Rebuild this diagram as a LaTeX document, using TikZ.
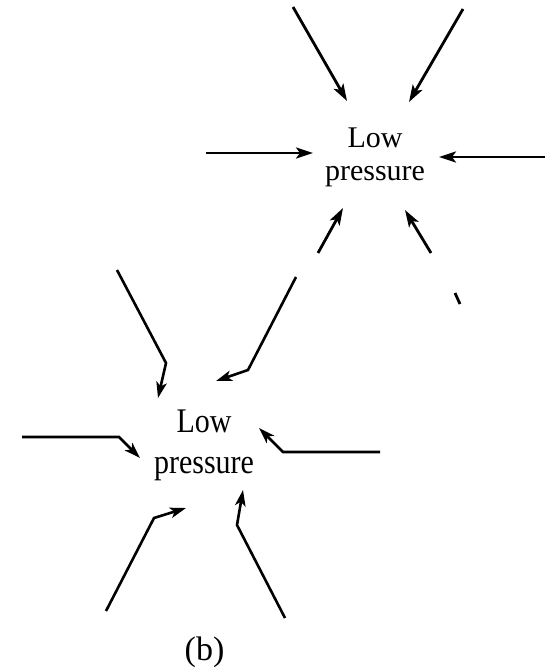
\documentclass[tikz,border=0pt]{standalone}
\usepackage{fontspec}
\setmainfont{Liberation Serif}
\usetikzlibrary{arrows.meta}
\begin{document}
\begin{tikzpicture}[x=1pt,y=-1pt,
  flow/.style={line width=2.8pt, -{Stealth[length=17pt,width=11pt,inset=4pt]}},
  flowb/.style={line width=2.6pt, -{Stealth[length=16pt,width=10.5pt,inset=4pt]}},
  plain/.style={line width=2.8pt},
  lbl/.style={font=\fontsize{30}{33}\selectfont, align=center, inner sep=0pt}]
\useasboundingbox (0,0) rectangle (550,669);
% top diagram
\node[lbl] (A) at (375,157) {Low\\pressure};
\coordinate (a1s) at (293,7);   \coordinate (a1t) at (347,101);
\coordinate (a2s) at (463,9);   \coordinate (a2t) at (409,102);
\coordinate (a3s) at (206,153); \coordinate (a3t) at (313,153);
\coordinate (a4s) at (545,157); \coordinate (a4t) at (439,157);
\coordinate (a5s) at (318,253); \coordinate (a5t) at (343,208);
\coordinate (a6s) at (431,253); \coordinate (a6t) at (405,210);
\coordinate (st1) at (455,293); \coordinate (st2) at (460,304);
\draw[flow] (a1s) -- (a1t);
\draw[flow] (a2s) -- (a2t);
\draw[flow] (a3s) -- (a3t);
\draw[flow] (a4s) -- (a4t);
\draw[flow] (a5s) -- (a5t);
\draw[flow] (a6s) -- (a6t);
\draw[plain] (st1) -- (st2);
% bottom diagram
\node[inner sep=0pt] (B) at (204,445) {\scalebox{1}[1.15]{\fontsize{30}{35}\selectfont\begin{tabular}{@{}c@{}}Low\\pressure\end{tabular}}};
\coordinate (b1s) at (117,270); \coordinate (b1k) at (166,363); \coordinate (b1t) at (158,398);
\coordinate (b2s) at (296,277); \coordinate (b2k) at (248,370); \coordinate (b2t) at (216,381);
\coordinate (b3s) at (22,437);  \coordinate (b3k) at (119,437); \coordinate (b3t) at (140,458);
\coordinate (b4s) at (380,452); \coordinate (b4k) at (283,452); \coordinate (b4t) at (259,428);
\coordinate (b5s) at (106,611); \coordinate (b5k) at (154,518); \coordinate (b5t) at (186,508);
\coordinate (b6s) at (285,618); \coordinate (b6k) at (237,525); \coordinate (b6t) at (243,490);
\draw[flowb] (b1s) -- (b1k) -- (b1t);
\draw[flowb] (b2s) -- (b2k) -- (b2t);
\draw[flowb] (b3s) -- (b3k) -- (b3t);
\draw[flowb] (b4s) -- (b4k) -- (b4t);
\draw[flowb] (b5s) -- (b5k) -- (b5t);
\draw[flowb] (b6s) -- (b6k) -- (b6t);
\node[inner sep=0pt, font=\fontsize{34}{38}\selectfont] (cap) at (204.5,652.5) {(b)};
\end{tikzpicture}
\end{document}
